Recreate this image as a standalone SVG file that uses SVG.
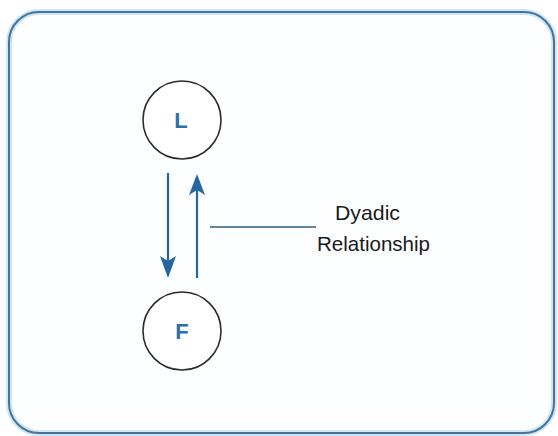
<svg xmlns="http://www.w3.org/2000/svg" width="558" height="436" viewBox="0 0 558 436">
  <defs>
    <style>
      .node circle { fill: #ffffff; stroke: #2b2b2b; stroke-width: 1.6; }
      .node text { font-family: "Liberation Sans", Arial, sans-serif; font-size: 22px; font-weight: bold; fill: #2f6ea8; text-anchor: middle; }
      .arrow { stroke: #2566a3; stroke-width: 2.2; fill: none; }
      .head { fill: #2566a3; }
      .leader { stroke: #2a5f86; stroke-width: 1.4; fill: none; }
      .label { font-family: "Liberation Sans", Arial, sans-serif; font-size: 21px; fill: #1a1a1a; }
    </style>
  </defs>
  <rect width="558" height="436" fill="#ffffff"/>
  <g id="frame">
    <rect x="9" y="12" width="545" height="421" rx="30" ry="30" fill="#fdfeff" stroke="#cfe6f5" stroke-width="6"/>
    <rect x="9" y="12" width="545" height="421" rx="30" ry="30" fill="none" stroke="#46739a" stroke-width="2"/>
  </g>
  <g id="node-L" class="node">
    <circle cx="182" cy="120" r="39"/>
    <text x="181" y="128">L</text>
  </g>
  <g id="node-F" class="node">
    <circle cx="182" cy="331" r="39"/>
    <text x="182" y="339">F</text>
  </g>
  <g id="connectors">
    <line class="arrow" x1="168" y1="173" x2="168" y2="262"/>
    <path class="head" d="M160,256 L168,278 L176,256 L168,261 Z"/>
    <line class="arrow" x1="197" y1="278" x2="197" y2="190"/>
    <path class="head" d="M189,195 L197,174 L205,195 L197,190 Z"/>
    <line class="leader" x1="210" y1="227" x2="316" y2="227"/>
  </g>
  <g id="label">
    <text class="label" x="335" y="220" textLength="65" lengthAdjust="spacingAndGlyphs">Dyadic</text>
    <text class="label" x="317" y="251" textLength="113" lengthAdjust="spacingAndGlyphs">Relationship</text>
  </g>
</svg>
